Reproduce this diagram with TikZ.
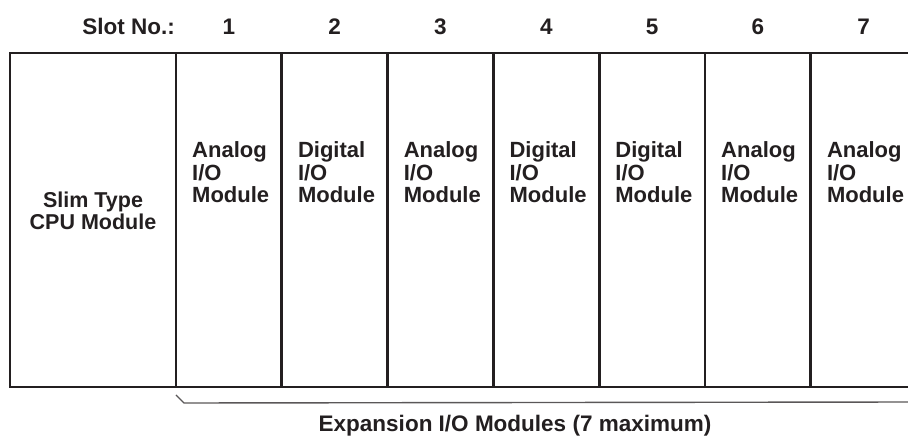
\documentclass[tikz,border=0pt]{standalone}
\usepackage{fontspec}
\setmainfont{Liberation Sans}
\usetikzlibrary{positioning}
\definecolor{ink}{RGB}{35,31,32}

\begin{document}
\begin{tikzpicture}[x=1pt, y=1pt,
	cpu/.style = {rectangle, draw=ink, line width=2.8pt, outer sep=0pt, inner sep=0pt, minimum width=166pt, minimum height=334pt},
	slot/.style = {rectangle, draw=ink, line width=2.8pt, outer sep=0pt, inner sep=0pt, minimum width=105.8pt, minimum height=334pt},
	lbl/.style = {inner sep=0pt, align=left, anchor=base west, text=ink, font=\fontsize{22}{22.5}\selectfont\bfseries},
	mid/.style = {inner sep=0pt, align=center, anchor=base, text=ink, font=\fontsize{21.5}{22.5}\selectfont\bfseries},
	hd/.style = {inner sep=0pt, anchor=base, text=ink, font=\fontsize{22.5}{24}\selectfont\bfseries},
	brk/.style = {draw=ink!75, line width=1.4pt}
	]
	\useasboundingbox (0,0) rectangle (908,436);
	\clip (0,0) rectangle (908,436);
	
	%Nodes
	\node[cpu, anchor=north west]	(cpu)	at	(10, 383)	{};
	\node[slot, right=0pt of cpu]	(m1)	{};
	\node[slot, right=0pt of m1]	(m2)	{};
	\node[slot, right=0pt of m2]	(m3)	{};
	\node[slot, right=0pt of m3]	(m4)	{};
	\node[slot, right=0pt of m4]	(m5)	{};
	\node[slot, right=0pt of m5]	(m6)	{};
	\node[slot, right=0pt of m6]	(m7)	{};
	
	%Header
	\coordinate	(row)	at	(0, 401);
	\node[hd, anchor=base east]	(slotno)	at	([xshift=-1pt]m1.west |- row)	{Slot No.:};
	\node[hd]	(n1)	at	(m1 |- row)	{1};
	\node[hd]	(n2)	at	(m2 |- row)	{2};
	\node[hd]	(n3)	at	(m3 |- row)	{3};
	\node[hd]	(n4)	at	(m4 |- row)	{4};
	\node[hd]	(n5)	at	(m5 |- row)	{5};
	\node[hd]	(n6)	at	(m6 |- row)	{6};
	\node[hd]	(n7)	at	(m7 |- row)	{7};
	
	%Labels (base = last line)
	\node[mid]	(tcpu)	at	([yshift=-177pt]cpu.north)	{Slim Type\\CPU Module};
	\node[lbl]	(t1)	at	([shift={(16,-150)}]m1.north west)	{Analog\\I/O\\Module};
	\node[lbl]	(t2)	at	([shift={(16,-150)}]m2.north west)	{Digital\\I/O\\Module};
	\node[lbl]	(t3)	at	([shift={(16,-150)}]m3.north west)	{Analog\\I/O\\Module};
	\node[lbl]	(t4)	at	([shift={(16,-150)}]m4.north west)	{Digital\\I/O\\Module};
	\node[lbl]	(t5)	at	([shift={(16,-150)}]m5.north west)	{Digital\\I/O\\Module};
	\node[lbl]	(t6)	at	([shift={(16,-150)}]m6.north west)	{Analog\\I/O\\Module};
	\node[lbl]	(t7)	at	([shift={(16,-150)}]m7.north west)	{Analog\\I/O\\Module};
	
	%Bracket
	\coordinate	(brr)	at	(m7.south east |- 0, 34);
	\draw[brk]	([yshift=-8pt]m1.south west) -- ++(8, -8) -- (brr);
	\node[hd]	(exp)	at	(515, 4)	{Expansion I/O Modules (7 maximum)};
\end{tikzpicture}
\end{document}
